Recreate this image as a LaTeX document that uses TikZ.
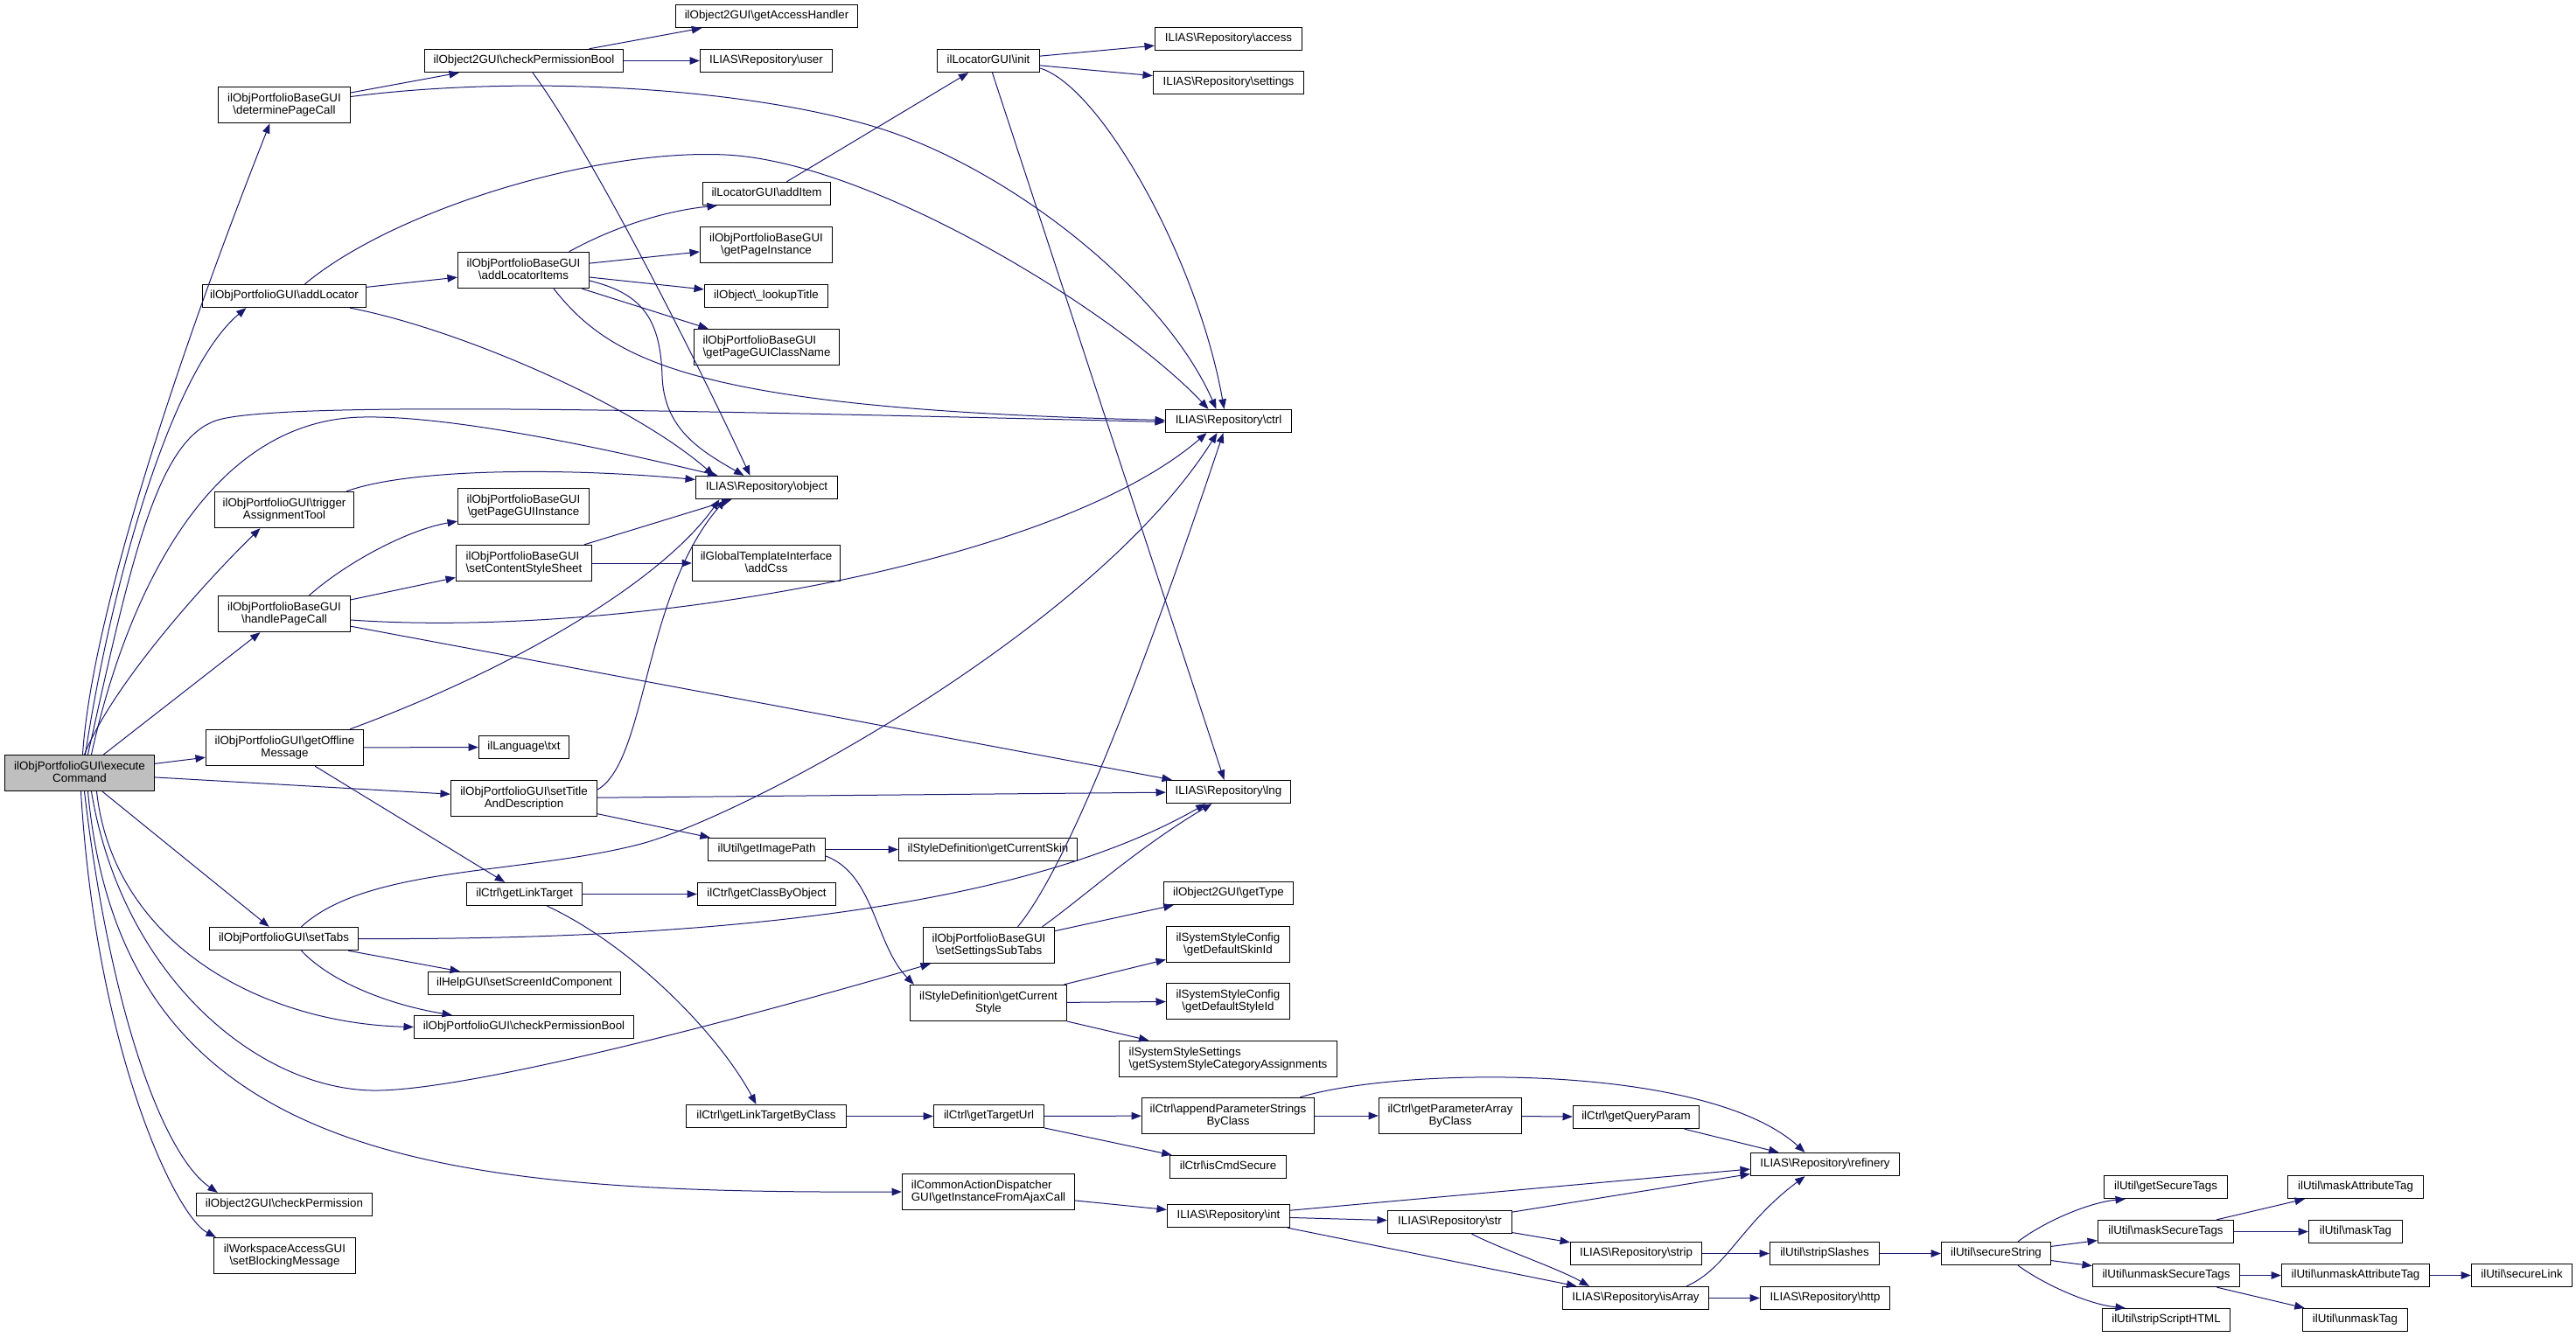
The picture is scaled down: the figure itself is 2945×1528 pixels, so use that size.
\documentclass[tikz,border=0pt]{standalone}
\usepackage{fontspec}
\setmainfont{Liberation Sans}
\usetikzlibrary{arrows.meta,calc}
\definecolor{edgecol}{HTML}{191970}
\definecolor{rootgray}{HTML}{BFBFBF}
\newcommand\bsl{\textbackslash}
\newdimen\twlw
\newcommand\twoline[2]{\setbox0=\hbox{\vrule height7.4pt depth2.2pt width0pt #1}\setbox2=\hbox{\vrule height7.4pt depth2.2pt width0pt #2}%
  \twlw=\wd0 \ifdim\wd2>\twlw \twlw=\wd2 \fi
  \vbox{\hbox to\twlw{\box0\hfil}\hbox to\twlw{\hfil\box2\hfil}}}
\tikzset{
  box/.style={draw=black,line width=1pt,fill=white,inner sep=0pt,font=\fontsize{10}{10.8}\selectfont,text height=7.4pt,text depth=2.2pt},
  boxii/.style={draw=black,line width=1pt,fill=white,inner sep=0pt,font=\fontsize{10}{10.8}\selectfont},
  e/.style={draw=edgecol,line width=0.75pt,-{Triangle[length=8.5pt,width=6.5pt]}},
}
\newcommand\mknode[5]{\pgfmathsetmacro\cxs{floor(#2-#4/2)+0.5+#4/2}\pgfmathsetmacro\cys{floor(#3-13)+13.5}%
  \node[box,minimum width=#4*0.75pt,minimum height=19.5pt] (#1) at (\cxs,\cys) {#5};}
\newcommand\mknodeii[7][]{\pgfmathsetmacro\cxs{floor(#3-#5/2)+0.5+#5/2}\pgfmathsetmacro\cys{floor(#4-20.5)+21}%
  \node[boxii,#1,minimum width=#5*0.75pt,minimum height=30.75pt] (#2) at (\cxs,\cys) {\twoline{#6}{#7}};}
\begin{document}
\begin{tikzpicture}[x=0.75pt,y=-0.75pt]
\useasboundingbox (0,0) rectangle (2945,1528);
% ---------- nodes ----------
\mknodeii[fill=rootgray]{exec}{90.5}{883.5}{171}{ilObjPortfolioGUI\bsl execute}{Command}
\mknode{gah}{876}{18.5}{208}{ilObject2GUI\bsl getAccessHandler}
\mknode{user}{875.5}{69.5}{151}{ILIAS\bsl Repository\bsl user}
\mknode{cpb}{598.5}{69.5}{227}{ilObject2GUI\bsl checkPermissionBool}
\mknodeii{dpc}{324.5}{119.5}{151}{ilObjPortfolioBaseGUI}{\bsl determinePageCall}
\mknode{additem}{876}{221}{146}{ilLocatorGUI\bsl addItem}
\mknodeii{gpi}{875.5}{280}{151}{ilObjPortfolioBaseGUI}{\bsl getPageInstance}
\mknodeii{ali}{598.5}{309}{150}{ilObjPortfolioBaseGUI}{\bsl addLocatorItems}
\mknode{addloc}{324.5}{338.5}{187}{ilObjPortfolioGUI\bsl addLocator}
\mknode{lookup}{875.5}{338.5}{141}{ilObject\bsl\_lookupTitle}
\mknodeii{gpgcn}{876}{397}{166}{ilObjPortfolioBaseGUI}{\bsl getPageGUIClassName}
\mknode{access}{1404}{44}{168}{ILIAS\bsl Repository\bsl access}
\mknode{init}{1129.5}{69.5}{117}{ilLocatorGUI\bsl init}
\mknode{settings}{1404}{94.5}{172}{ILIAS\bsl Repository\bsl settings}
\mknode{ctrl}{1404}{481}{144}{ILIAS\bsl Repository\bsl ctrl}
\mknode{object}{876}{557}{162}{ILIAS\bsl Repository\bsl object}
\mknodeii{trigger}{324.5}{582.5}{159}{ilObjPortfolioGUI\bsl trigger}{AssignmentTool}
\mknodeii{gpgi}{598.5}{578.5}{150}{ilObjPortfolioBaseGUI}{\bsl getPageGUIInstance}
\mknodeii{scss}{598.5}{644}{155}{ilObjPortfolioBaseGUI}{\bsl setContentStyleSheet}
\mknodeii{addcss}{875.5}{644}{169}{ilGlobalTemplateInterface}{\bsl addCss}
\mknodeii{hpc}{324.5}{702}{151}{ilObjPortfolioBaseGUI}{\bsl handlePageCall}
\mknodeii{gom}{325}{854.5}{180}{ilObjPortfolioGUI\bsl getOffline}{Message}
\mknode{txt}{598.5}{854.5}{103}{ilLanguage\bsl txt}
\mknodeii{stad}{598.5}{913}{167}{ilObjPortfolioGUI\bsl setTitle}{AndDescription}
\mknode{gip}{876}{971.5}{134}{ilUtil\bsl getImagePath}
\mknode{lng}{1404}{905.5}{142}{ILIAS\bsl Repository\bsl lng}
\mknode{gcs}{1129}{971.5}{204}{ilStyleDefinition\bsl getCurrentSkin}
\mknode{glt}{599}{1022.5}{132}{ilCtrl\bsl getLinkTarget}
\mknode{gcbo}{876}{1022.5}{158}{ilCtrl\bsl getClassByObject}
\mknode{settabs}{324.5}{1073.5}{170}{ilObjPortfolioGUI\bsl setTabs}
\mknode{ssic}{599}{1124}{220}{ilHelpGUI\bsl setScreenIdComponent}
\mknode{opcpb}{598.5}{1174.5}{251}{ilObjPortfolioGUI\bsl checkPermissionBool}
\mknode{gltbc}{875.5}{1276}{183}{ilCtrl\bsl getLinkTargetByClass}
\mknode{cp}{324.5}{1377}{201}{ilObject2GUI\bsl checkPermission}
\mknodeii{sbm}{325}{1436}{162}{ilWorkspaceAccessGUI}{\bsl setBlockingMessage}
\mknode{gettype}{1404}{1021}{148}{ilObject2GUI\bsl getType}
\mknodeii{ssst}{1130}{1081}{150}{ilObjPortfolioBaseGUI}{\bsl setSettingsSubTabs}
\mknodeii{gdsk}{1403.5}{1080}{141}{ilSystemStyleConfig}{\bsl getDefaultSkinId}
\mknodeii{gcst}{1129.5}{1146.5}{179}{ilStyleDefinition\bsl getCurrent}{Style}
\mknodeii{gdst}{1403.5}{1145}{141}{ilSystemStyleConfig}{\bsl getDefaultStyleId}
\mknodeii{gssca}{1403.5}{1210.5}{249}{ilSystemStyleSettings}{\bsl getSystemStyleCategoryAssignments}
\mknode{gtu}{1130}{1276}{126}{ilCtrl\bsl getTargetUrl}
\mknodeii{apsbc}{1403.5}{1276}{197}{ilCtrl\bsl appendParameterStrings}{ByClass}
\mknodeii{gpabc}{1657.5}{1276}{163}{ilCtrl\bsl getParameterArray}{ByClass}
\mknode{gqp}{1870}{1277}{144}{ilCtrl\bsl getQueryParam}
\mknode{ics}{1403.5}{1334.5}{133}{ilCtrl\bsl isCmdSecure}
\mknodeii{gifac}{1129.5}{1362.5}{197}{ilCommonActionDispatcher}{GUI\bsl getInstanceFromAjaxCall}
\mknode{int}{1404}{1390.5}{140}{ILIAS\bsl Repository\bsl int}
\mknode{str}{1657}{1397}{142}{ILIAS\bsl Repository\bsl str}
\mknode{strip}{1870}{1433.5}{150}{ILIAS\bsl Repository\bsl strip}
\mknode{isarray}{1869.5}{1484}{167}{ILIAS\bsl Repository\bsl isArray}
\mknode{refinery}{2086}{1331.5}{170}{ILIAS\bsl Repository\bsl refinery}
\mknode{gst}{2475.5}{1357}{141}{ilUtil\bsl getSecureTags}
\mknode{mat}{2692.5}{1357}{155}{ilUtil\bsl maskAttributeTag}
\mknode{mst}{2475.5}{1408}{155}{ilUtil\bsl maskSecureTags}
\mknode{mtag}{2692.5}{1408}{107}{ilUtil\bsl maskTag}
\mknode{sslash}{2085.5}{1433}{125}{ilUtil\bsl stripSlashes}
\mknode{sstr}{2281.5}{1433}{125}{ilUtil\bsl secureString}
\mknode{ust}{2476}{1458.5}{168}{ilUtil\bsl unmaskSecureTags}
\mknode{uat}{2692.5}{1458.5}{169}{ilUtil\bsl unmaskAttributeTag}
\mknode{slink}{2882.5}{1458.5}{115}{ilUtil\bsl secureLink}
\mknode{http}{2086}{1484}{148}{ILIAS\bsl Repository\bsl http}
\mknode{ssh}{2476}{1509}{146}{ilUtil\bsl stripScriptHTML}
\mknode{utag}{2692}{1509}{120}{ilUtil\bsl unmaskTag}
% ---------- edges ----------
% from executeCommand
\draw[e] ($(exec.north)+(3.5,0)$) .. controls (105,700) and (210,390) .. ($(dpc.south)+(-16.5,0)$);
\draw[e] ($(exec.north)+(6.5,0)$) .. controls (130,650) and (200,420) .. ($(addloc.south)+(-43.5,0)$);
\draw[e] ($(exec.north)+(9.5,0)$) .. controls (150,640) and (180,500) .. (250,480) .. controls (330,458) and (800,470) .. ($(ctrl.west)+(0,1)$);
\draw[e] ($(exec.north)+(13.5,0)$) .. controls (140,700) and (230,480) .. (415,477) .. controls (520,475) and (700,515) .. ($(object.north)+(-56,0)$);
\draw[e] ($(exec.north)+(5.5,0)$) .. controls (130,780) and (240,660) .. ($(trigger.south)+(-27.5,0)$);
\draw[e] ($(exec.north)+(27.5,0)$) -- ($(hpc.south)+(-27.5,0)$);
\draw[e] (exec) -- (gom);
\draw[e] (exec) -- (stad);
\draw[e] (exec) -- (settabs);
\draw[e] ($(exec.south)+(19.5,0)$) .. controls (130,1080) and (300,1170) .. (opcpb.west);
\draw[e] ($(exec.south)+(13.5,0)$) .. controls (140,1120) and (300,1250) .. (434,1247) .. controls (560,1244) and (900,1150) .. ($(ssst.south west)+(9,0)$);
\draw[e] ($(exec.south)+(9.5,0)$) .. controls (140,1330) and (500,1365) .. (gifac.west);
\draw[e] ($(exec.south)+(5.5,0)$) .. controls (125,1150) and (185,1320) .. ($(cp.north west)+(25,0)$);
\draw[e] ($(exec.south)+(1.5,0)$) .. controls (110,1200) and (200,1390) .. ($(sbm.north west)+(3,0)$);
% determinePageCall
\draw[e] (dpc) -- (cpb);
\draw[e] ($(dpc.east)+(0,-9.5)$) .. controls (600,85) and (850,100) .. (1000,145) .. controls (1150,190) and (1330,330) .. ($(ctrl.north)+(-14,0)$);
% checkPermissionBool (ilObject2GUI)
\draw[e] (cpb) -- (gah);
\draw[e] (cpb) -- (user);
\draw[e] ($(cpb.south)+(10,0)$) .. controls (680,180) and (800,420) .. ($(object.north)+(-19,0)$);
% addLocator
\draw[e] (addloc) -- (ali);
\draw[e] ($(addloc.north)+(23.5,0)$) .. controls (450,240) and (680,170) .. (829,177) .. controls (1000,185) and (1280,360) .. ($(ctrl.north)+(-23,0)$);
\draw[e] ($(addloc.south east)+(-19,0)$) .. controls (520,375) and (720,460) .. ($(object.north)+(-60,0)$);
% addLocatorItems
\draw[e] ($(ali.north)+(52,0)$) .. controls (710,255) and (770,240) .. ($(additem.south west)+(17,0)$);
\draw[e] (ali) -- (gpi);
\draw[e] (ali) -- (lookup);
\draw[e] (ali) -- (gpgcn);
\draw[e] ($(ali.south)+(34.5,0)$) .. controls (700,415) and (800,468) .. ($(ctrl.west)+(0,-1)$);
\draw[e] ($(ali.east)+(0,12)$) .. controls (730,335) and (755,360) .. (757,430) .. controls (759,490) and (800,515) .. ($(object.north)+(-26,0)$);
% locator
\draw[e] (additem) -- (init);
\draw[e] (init) -- (access);
\draw[e] (init) -- (settings);
\draw[e] ($(init.east)+(0,8.5)$) .. controls (1260,100) and (1370,300) .. ($(ctrl.north)+(-5,0)$);
\draw[e] (init) -- ($(lng.north)+(-5,0)$);
% trigger
\draw[e] ($(trigger.north east)+(-9,0)$) .. controls (470,535) and (650,535) .. ($(object.west)+(0,-9)$);
% handlePageCall
\draw[e] ($(hpc.north)+(28.5,0)$) .. controls (400,640) and (470,605) .. ($(gpgi.south west)+(0,-4)$);
\draw[e] (hpc) -- (scss);
\draw[e] ($(hpc.east)+(0,7)$) .. controls (700,730) and (1200,650) .. ($(ctrl.south)+(-25,0)$);
\draw[e] (hpc) -- ($(lng.north west)+(7,0)$);
% setContentStyleSheet
\draw[e] (scss) -- ($(object.south)+(-40,0)$);
\draw[e] (scss) -- (addcss);
% getOfflineMessage
\draw[e] ($(gom.north east)+(-16,0)$) .. controls (600,760) and (760,660) .. ($(object.south)+(-54,0)$);
\draw[e] (gom) -- (txt);
\draw[e] (gom) -- (glt);
% setTitleAndDescription
\draw[e] ($(stad.east)+(0,-10)$) .. controls (740,870) and (735,680) .. ($(object.south)+(-47,0)$);
\draw[e] (stad) -- (lng);
\draw[e] (stad) -- (gip);
% getImagePath
\draw[e] (gip) -- (gcs);
\draw[e] ($(gip.east)+(0,7.5)$) .. controls (1000,1000) and (1000,1080) .. ($(gcst.north west)+(5,0)$);
% getLinkTarget
\draw[e] (glt) -- (gcbo);
\draw[e] ($(glt.south)+(26,0)$) .. controls (720,1080) and (820,1180) .. ($(gltbc.north)+(-11.5,0)$);
% setTabs
\draw[e] ($(settabs.north)+(20,0)$) .. controls (420,990) and (600,1000) .. (733,965) .. controls (850,934) and (1250,720) .. ($(ctrl.south)+(-13,0)$);
\draw[e] (settabs.east) .. controls (750,1075) and (1150,1050) .. ($(lng.south)+(-26,0)$);
\draw[e] (settabs) -- (ssic);
\draw[e] ($(settabs.south)+(20,0)$) .. controls (380,1125) and (450,1150) .. ($(opcpb.north west)+(44,0)$);
% setSettingsSubTabs
\draw[e] ($(ssst.north)+(33,0)$) .. controls (1230,980) and (1330,700) .. ($(ctrl.south)+(-6,0)$);
\draw[e] ($(ssst.north)+(61,0)$) .. controls (1240,1025) and (1300,970) .. ($(lng.south)+(-19,0)$);
\draw[e] (ssst) -- (gettype);
% getCurrentStyle
\draw[e] (gcst) -- (gdsk);
\draw[e] (gcst) -- (gdst);
\draw[e] (gcst) -- (gssca);
% ctrl chain
\draw[e] (gltbc) -- (gtu);
\draw[e] (gtu) -- (apsbc);
\draw[e] (gtu) -- (ics);
\draw[e] (apsbc) -- (gpabc);
\draw[e] ($(apsbc.north east)+(-17,0)$) .. controls (1600,1220) and (1950,1215) .. ($(refinery.north)+(-23,0)$);
\draw[e] (gpabc) -- (gqp);
\draw[e] (gqp) -- ($(refinery.north)+(-53,0)$);
% ajax call / repository
\draw[e] (gifac) -- (int);
\draw[e] (int) -- ($(refinery.west)+(0,5.5)$);
\draw[e] (int) -- (str);
\draw[e] (int) -- (isarray);
\draw[e] (str) -- ($(refinery.west)+(0,11)$);
\draw[e] (str) -- (strip);
\draw[e] ($(str.south)+(25,0)$) .. controls (1720,1430) and (1780,1450) .. ($(isarray.north)+(-53,0)$);
\draw[e] (strip) -- (sslash);
\draw[e] ($(isarray.north east)+(-26,0)$) .. controls (1975,1450) and (1990,1400) .. ($(refinery.south)+(-23,0)$);
\draw[e] (isarray) -- (http);
% ilUtil
\draw[e] (sslash) -- (sstr);
\draw[e] ($(sstr.north)+(25,0)$) .. controls (2340,1395) and (2390,1375) .. ($(gst.south west)+(25,0)$);
\draw[e] (sstr) -- (mst);
\draw[e] (sstr) -- (ust);
\draw[e] ($(sstr.south)+(25,0)$) .. controls (2340,1471) and (2390,1492) .. ($(ssh.north west)+(27,0)$);
\draw[e] (mst) -- (mat);
\draw[e] (mst) -- (mtag);
\draw[e] (ust) -- (uat);
\draw[e] (ust) -- (utag);
\draw[e] (uat) -- (slink);
\end{tikzpicture}
\end{document}
